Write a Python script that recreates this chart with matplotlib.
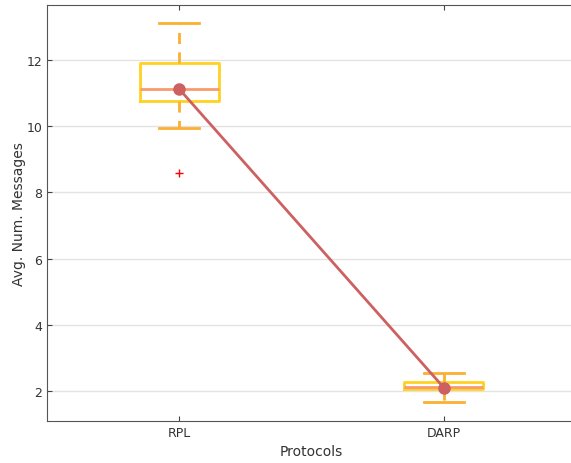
import numpy as np
import matplotlib.pyplot as plt

# data
protocols = ['RPL', 'DARP']
q1 = [10.76, 2.06]
med = [11.12, 2.13]
q3 = [11.91, 2.27]
wlo = [9.94, 1.66]
whi = [13.12, 2.53]
outliers = [[8.58], []]
means = [11.12, 2.10]

stats = []
for i in range(len(protocols)):
    stats.append(dict(label=protocols[i], q1=q1[i], med=med[i], q3=q3[i],
                      whislo=wlo[i], whishi=whi[i], fliers=outliers[i]))

fig = plt.figure(figsize=(5.71, 4.64), dpi=100)
ax = fig.add_axes([47/571, 42/464, 529/571, 416/464])

pos = [1, 2]
ax.bxp(stats, positions=pos, widths=0.3, showfliers=True,
       boxprops=dict(color='#FFD21F', linewidth=2),
       whiskerprops=dict(color='#FBB030', linewidth=2, linestyle=(0, (4, 3))),
       capprops=dict(color='#FBB030', linewidth=2),
       medianprops=dict(color='#F99A6E', linewidth=2),
       flierprops=dict(marker='+', markeredgecolor='red', markersize=6, linestyle='none'),
       capwidths=0.15)

ax.plot(pos, means, color='#CD6060', linewidth=2, marker='o', markersize=8, zorder=5)

ax.set_xlim(0.5, 2.5)
ax.set_ylim(1.09, 13.66)
ax.set_xticks(pos)
ax.set_xticklabels(protocols)
ax.set_yticks([2, 4, 6, 8, 10, 12])
ax.yaxis.grid(True, color='#E3E3E3', linewidth=1)
ax.set_axisbelow(True)
ax.tick_params(direction='in', top=True, right=True, colors='#444444', labelcolor='#333333', labelsize=9)
for s in ax.spines.values():
    s.set_color('#555555')
ax.set_xlabel('Protocols', fontsize=10, color='#333333')
ax.set_ylabel('Avg. Num. Messages', fontsize=10, color='#333333', labelpad=0)

fig.savefig('out.png', dpi=100)
